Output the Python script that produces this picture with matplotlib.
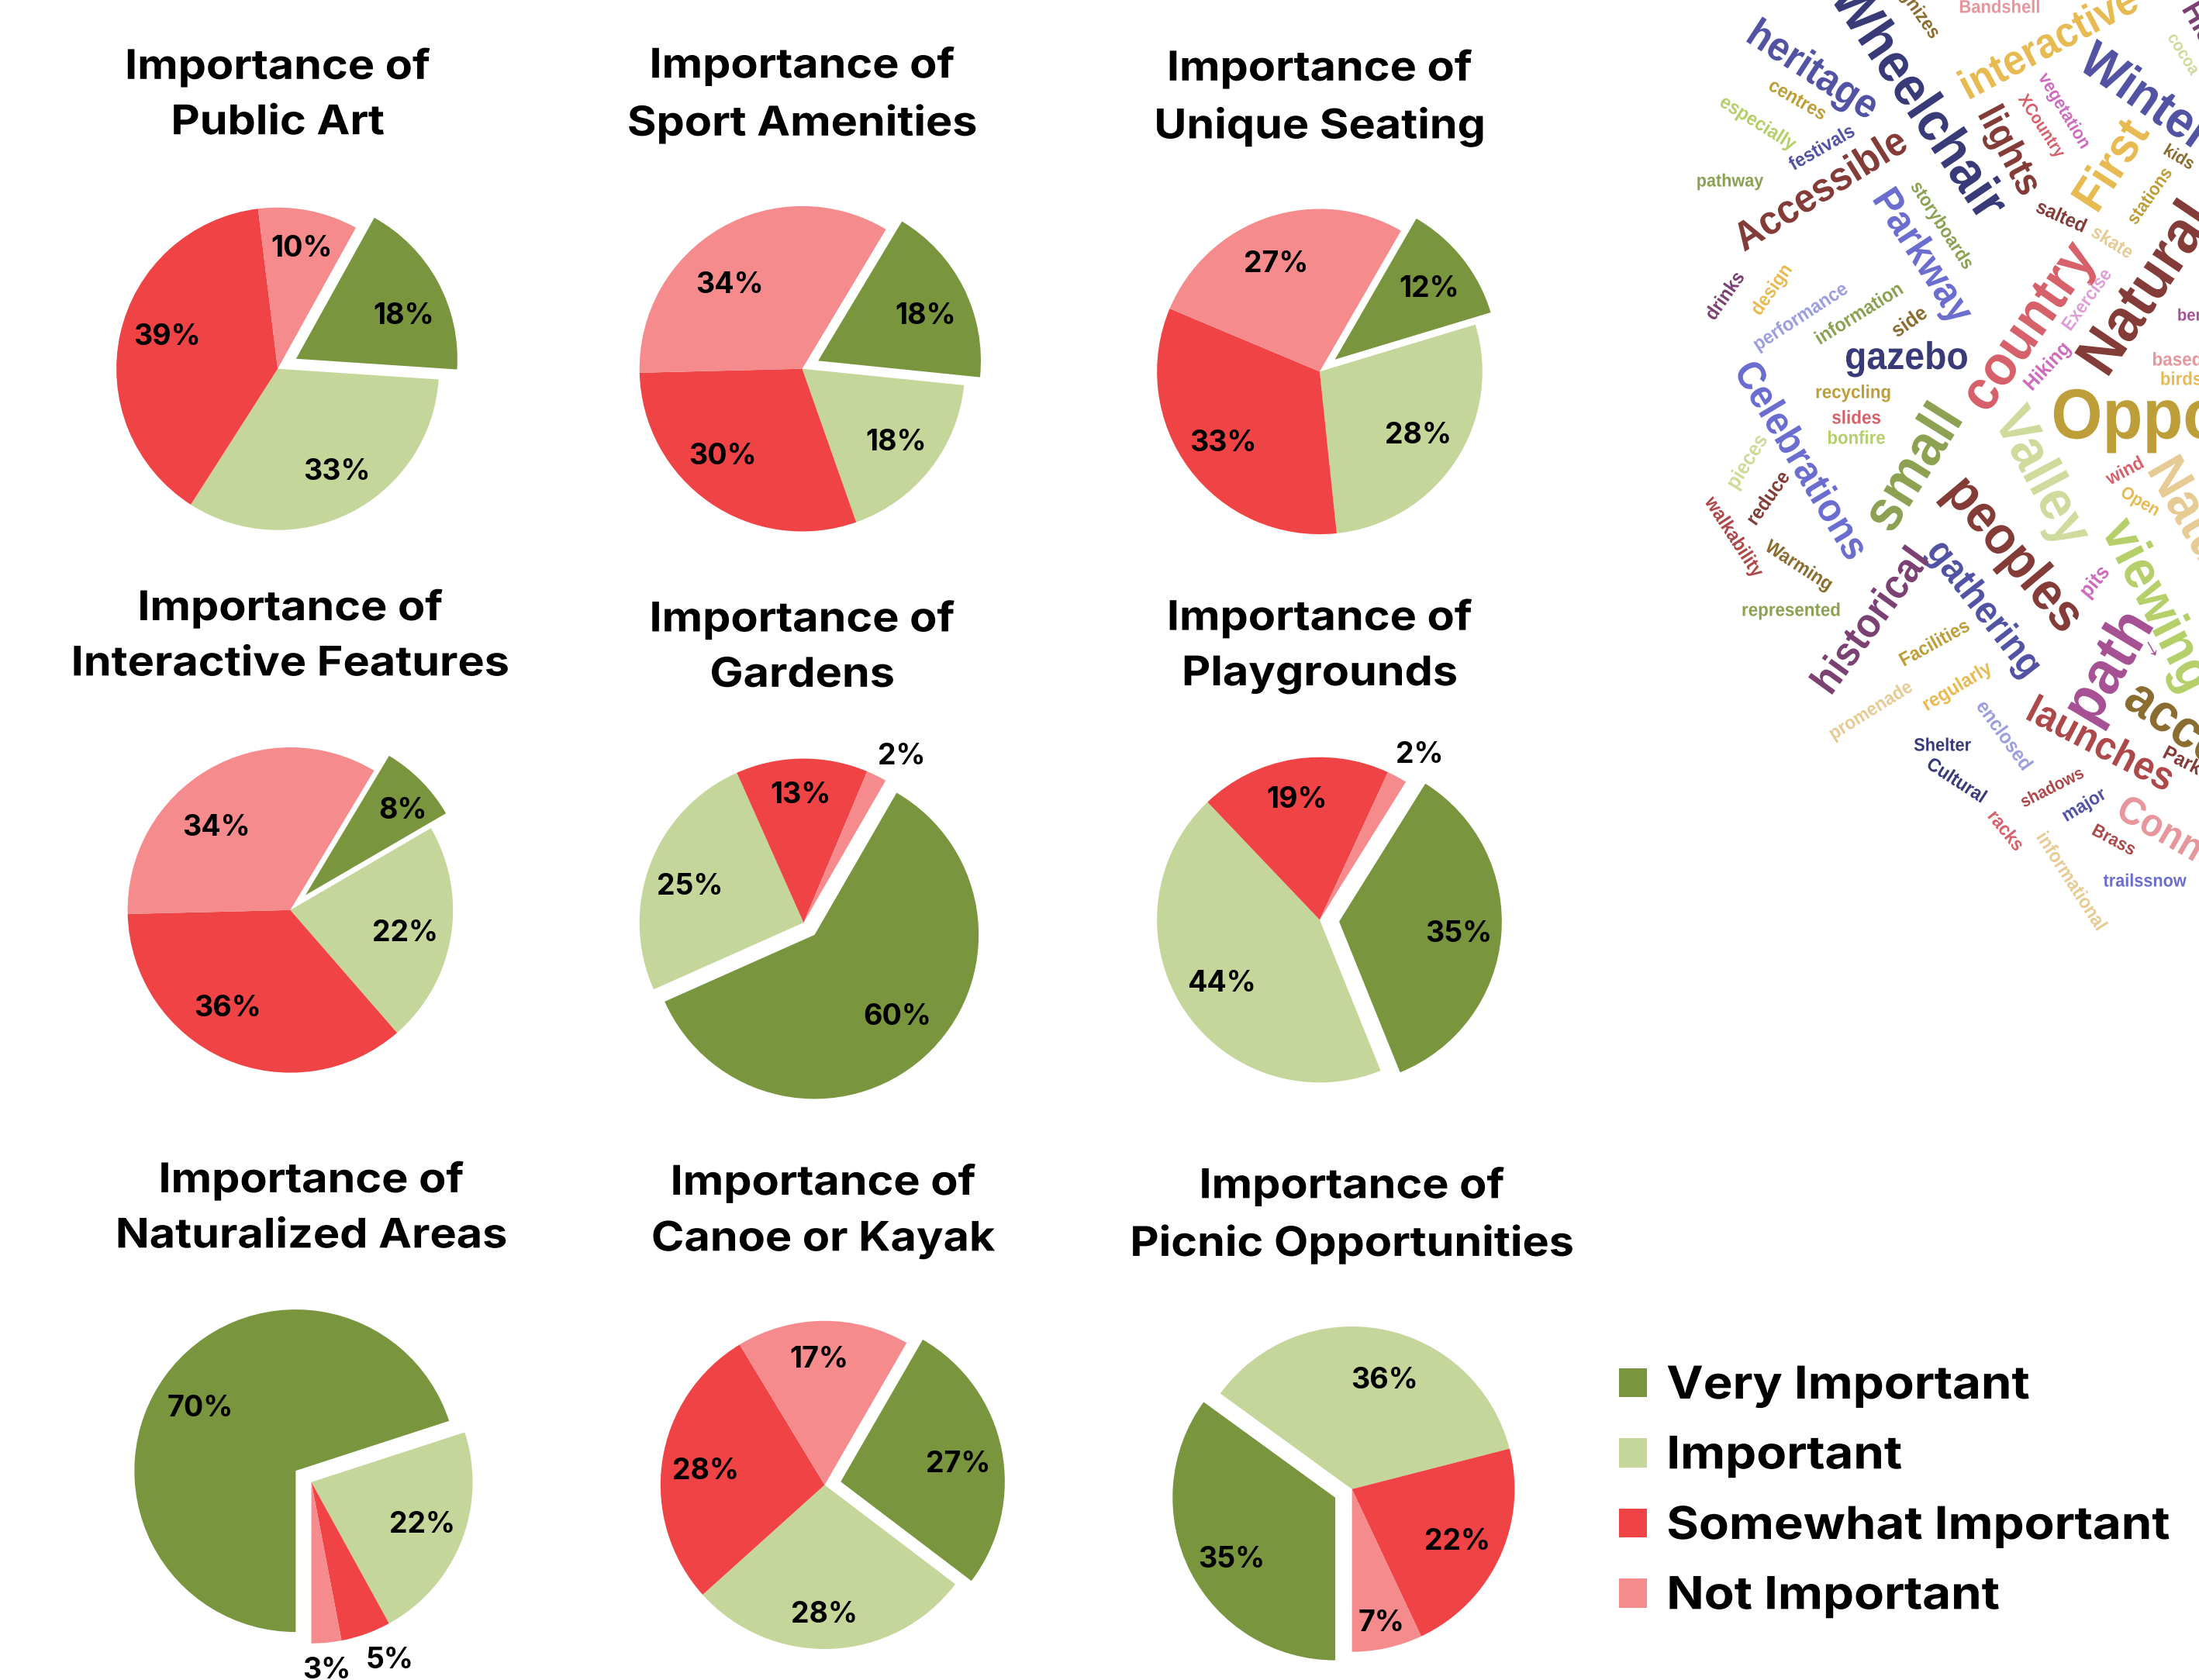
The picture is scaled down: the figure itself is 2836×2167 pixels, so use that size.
import matplotlib

matplotlib.use("Agg")
import matplotlib.pyplot as plt
from matplotlib.font_manager import FontProperties
from matplotlib.patches import Patch
from matplotlib.patheffects import AbstractPathEffect
from matplotlib.textpath import TextPath
from matplotlib.transforms import Affine2D

W, H = 2836, 2167
S = W / 1568

CATEGORIES = ["Very Important", "Important", "Somewhat Important", "Not Important"]
COLORS = ["#79953d", "#c5d69b", "#f04346", "#f68b8e"]

TOPICS = [
    "Public Art",
    "Sport Amenities",
    "Unique Seating",
    "Interactive Features",
    "Gardens",
    "Playgrounds",
    "Naturalized Areas",
    "Canoe or Kayak",
    "Picnic Opportunities",
]
public_art = [18, 33, 39, 10]
sport_amenities = [18, 18, 30, 34]
unique_seating = [12, 28, 33, 27]
interactive_features = [8, 22, 36, 34]
gardens = [60, 25, 13, 2]
playgrounds = [35, 44, 19, 2]
naturalized_areas = [70, 22, 5, 3]
canoe_or_kayak = [27, 28, 28, 17]
picnic_opportunities = [35, 36, 22, 7]
VALUES = [
    public_art,
    sport_amenities,
    unique_seating,
    interactive_features,
    gardens,
    playgrounds,
    naturalized_areas,
    canoe_or_kayak,
    picnic_opportunities,
]

# cx, cy, radius, start angle, explode, title x, title y
PIE_LAYOUT = [
    (198, 263, 115, 61, 0.13, 198, 67),
    (572, 263, 116, 59, 0.11, 572, 67),
    (941, 265, 116, 60, 0.12, 941, 69),
    (207, 649, 116, 59, 0.13, 207, 453),
    (573, 658, 117, 60, 0.10, 572, 461),
    (941, 656, 116, 58, 0.12, 941, 460),
    (222, 1057, 115, 270, 0.12, 222, 861),
    (588, 1059, 117, 60, 0.10, 587, 863),
    (964, 1062, 116, 270, 0.115, 964, 866),
]
# centres of the percent labels, same order as the slices
LABEL_XY = [
    [(288, 224), (240, 335), (119, 239), (215, 176)],
    [(660, 224), (639, 314), (515, 324), (520, 202)],
    [(1019, 205), (1011, 309), (872, 315), (910, 187)],
    [(287, 577), (289, 664), (162, 718), (154, 589)],
    [(640, 724), (492, 631), (571, 566), (643, 538)],
    [(1040, 665), (871, 700), (925, 569), (1012, 537)],
    [(143, 1003), (301, 1086), (278, 1183), (233, 1190)],
    [(683, 1043), (588, 1150), (503, 1048), (584, 968)],
    [(878, 1111), (987, 983), (1039, 1098), (985, 1156)],
]

NAVY, BLUE, PERI, LILAC = "#393b79", "#5254a3", "#6b6ecf", "#9c9ede"
OLIVE, LIME, PALE = "#8ca252", "#b5cf6b", "#cedb9c"
BROWN, GOLD, AMBER, TAN = "#8c6d31", "#bd9e39", "#e7ba52", "#e7cb94"
MAROON, BRICK, ROSE, BLUSH = "#843c39", "#ad494a", "#d6616b", "#e7969c"
PLUM, PURPLE, ORCHID, MAUVE = "#7b4173", "#a55194", "#ce6dbd", "#de9ed6"

WORDS = [
    "Wheelchair", "heritage", "recognizes", "Bandshell", "interactive", "Winter",
    "cocoa", "Historic", "vegetation", "XCountry", "lights", "First", "kids",
    "stations", "salted", "skate", "Natural", "benches", "based", "birds",
    "Opportunities", "Nature", "wind", "Open", "viewing", "pits", "Valley",
    "peoples", "gathering", "path", "launches", "accessible", "→", "Parking",
    "Connections", "shadows", "major", "Brass", "racks", "informational",
    "trailssnow", "enclosed", "Shelter", "Cultural", "promenade", "regularly",
    "Facilities", "historical", "represented", "Warming", "walkability", "reduce",
    "pieces", "Celebrations", "small", "bonfire", "slides", "recycling", "gazebo",
    "Hiking", "country", "Exercise", "side", "information", "performance", "design",
    "drinks", "Parkway", "storyboards", "Accessible", "pathway", "festivals",
    "especially", "centres",
]
# cx, cy, angle, length, colour in full size pixels, same order as WORDS
WORD_LAYOUT = [
    (2472, 132, -56, 350, NAVY), (2337, 92, -33, 186, BLUE), (2462, -2, -55, 118, BROWN),
    (2579, 10, 0, 102, BLUSH), (2643, 58, 28, 248, AMBER), (2766, 128, -35, 190, BLUE),
    (2815, 70, -58, 58, PALE), (2855, 64, -60, 130, PLUM), (2662, 143, -59, 108, ORCHID),
    (2632, 163, -57, 92, ROSE), (2590, 195, -62, 118, MAROON), (2725, 215, 57, 122, AMBER),
    (2810, 203, -31, 40, BROWN), (2773, 253, 55, 82, GOLD), (2658, 280, -24, 66, MAROON),
    (2724, 313, -32, 57, TAN), (2770, 374, 56, 240, MAROON), (2849, 408, 0, 80, PURPLE),
    (2808, 465, 0, 62, BLUSH), (2813, 490, 0, 52, AMBER), (2924, 542, 0, 550, GOLD),
    (2835, 686, -60, 200, TAN), (2741, 608, 28, 50, ROSE), (2760, 647, -30, 52, AMBER),
    (2780, 782, -63, 235, LIME), (2702, 751, 50, 42, ORCHID), (2632, 616, -62, 190, PALE),
    (2596, 716, -50, 234, MAROON), (2558, 786, -52, 205, BLUE), (2722, 862, 59, 146, PURPLE),
    (2708, 962, -27.5, 202, BRICK), (2879, 987, -35, 320, BROWN), (2778, 835, -60, 20, PURPLE),
    (2830, 990, -27, 85, MAROON), (2856, 1112, -30, 280, BLUSH), (2647, 1017, 27, 87, BRICK),
    (2688, 1039, 31, 60, BLUE), (2726, 1084, -28, 58, BRICK), (2586, 1072, -51, 57, ROSE),
    (2671, 1137, -57, 143, TAN), (2766, 1137, 0, 107, PERI), (2584, 949, -54, 102, LILAC),
    (2505, 962, 0, 73, NAVY), (2523, 1007, -33, 84, NAVY), (2413, 917, 32, 120, TAN),
    (2524, 886, 31, 98, AMBER), (2495, 830, 29, 97, GOLD), (2414, 802, 54, 212, PLUM),
    (2310, 788, 0, 125, OLIVE), (2320, 730, -33, 97, BROWN), (2236, 693, -57, 118, BRICK),
    (2281, 643, 55, 76, MAROON), (2254, 596, 58, 75, PALE), (2321, 595, -59, 285, PERI),
    (2470, 605, 58, 170, OLIVE), (2394, 566, 0, 73, LIME), (2394, 540, 0, 62, ROSE),
    (2390, 507, 0, 95, GOLD), (2459, 463, 0, 156, NAVY), (2641, 473, 47, 72, ORCHID),
    (2618, 423, 55, 245, ROSE), (2692, 387, 54, 90, MAUVE), (2463, 416, 35, 48, BROWN),
    (2398, 405, 32, 126, OLIVE), (2322, 409, 33, 138, LILAC), (2285, 374, 55, 72, AMBER),
    (2225, 382, 55, 68, PLUM), (2478, 331, -57, 192, PERI), (2504, 291, -57, 128, OLIVE),
    (2349, 247, 32, 250, MAROON), (2231, 234, 0, 85, OLIVE), (2350, 191, 30, 92, BLUE),
    (2267, 159, -32, 110, LIME), (2318, 129, -30, 80, GOLD),
]

FONT = "Inter"
CLOUD_SQUEEZE = 0.93  # no condensed face installed, so narrow the glyphs a bit
WIDE_STRETCH = 1.09

plt.rcParams["font.family"] = [FONT, "DejaVu Sans"]


class ScaleAlong(AbstractPathEffect):
    """Scale glyphs along the text direction, about a display point."""

    def __init__(self, factor, angle, x, y):
        super().__init__()
        self._tr = (
            Affine2D()
            .translate(-x, -y)
            .rotate_deg(-angle)
            .scale(factor, 1)
            .rotate_deg(angle)
            .translate(x, y)
        )

    def draw_path(self, renderer, gc, tpath, affine, rgbFace=None):
        renderer.draw_path(gc, tpath, affine + self._tr, rgbFace)


fig = plt.figure(figsize=(W / 100, H / 100), dpi=100, facecolor="white")

for topic, vals, layout, label_xy in zip(TOPICS, VALUES, PIE_LAYOUT, LABEL_XY):
    cx, cy, r, start, expl, tx, ty = layout
    half = 1.6 * r * S
    ax = fig.add_axes(
        [
            (cx * S - half) / W,
            1 - (cy * S + half) / H,
            2 * half / W,
            2 * half / H,
        ]
    )
    wedges, _, autotexts = ax.pie(
        vals,
        colors=COLORS,
        startangle=start,
        counterclock=False,
        explode=[expl, 0, 0, 0],
        autopct="%1.0f%%",
        wedgeprops={"linewidth": 0},
        textprops={"fontsize": 27, "fontweight": "bold", "color": "black"},
    )
    ax.set_xlim(-1.6, 1.6)
    ax.set_ylim(-1.6, 1.6)
    ax.axis("off")
    for t, (lx, ly) in zip(autotexts, label_xy):
        t.set_position(((lx - cx) / r, (cy - ly - 1.5) / r))
        t.set_ha("center")
        t.set_va("center")
    title_x, title_y = tx * S, (ty + 1) * S
    title = fig.text(
        title_x / W,
        1 - title_y / H,
        f"Importance of\n{topic}",
        ha="center",
        va="center",
        fontsize=38,
        fontweight="bold",
        linespacing=1.59,
    )
    title.set_path_effects([ScaleAlong(WIDE_STRETCH, 0, title_x, H - title_y)])

handles = [Patch(facecolor=c, linewidth=0) for c in COLORS]
legend = fig.legend(
    handles,
    CATEGORIES,
    loc="upper left",
    bbox_to_anchor=(2088 / W, 1 - 1762 / H),
    frameon=False,
    prop={"family": [FONT, "DejaVu Sans"], "weight": "bold", "size": 42},
    borderpad=0,
    borderaxespad=0,
    handlelength=0.62,
    handleheight=0.62,
    handletextpad=0.43,
    labelspacing=0.622,
)
fig.canvas.draw()
for t in legend.get_texts():
    box = t.get_window_extent()
    t.set_path_effects([ScaleAlong(WIDE_STRETCH, 0, box.x0, box.y0)])

cloud_font = FontProperties(family="Liberation Sans", weight="bold")
for word, (wx, wy, angle, length, color) in zip(WORDS, WORD_LAYOUT):
    # size each word from its measured length on the picture
    base = TextPath((0, 0), word, size=100, prop=cloud_font).get_extents().width
    size_px = 100 * length / (base * CLOUD_SQUEEZE)
    txt = fig.text(
        wx / W,
        1 - wy / H,
        word,
        color=color,
        rotation=angle,
        rotation_mode="anchor",
        ha="center",
        va="center",
        fontproperties=cloud_font,
        fontsize=size_px * 72 / 100,
    )
    txt.set_path_effects([ScaleAlong(CLOUD_SQUEEZE, angle, wx, H - wy)])

fig.savefig("out.png", dpi=100)
plt.close(fig)
